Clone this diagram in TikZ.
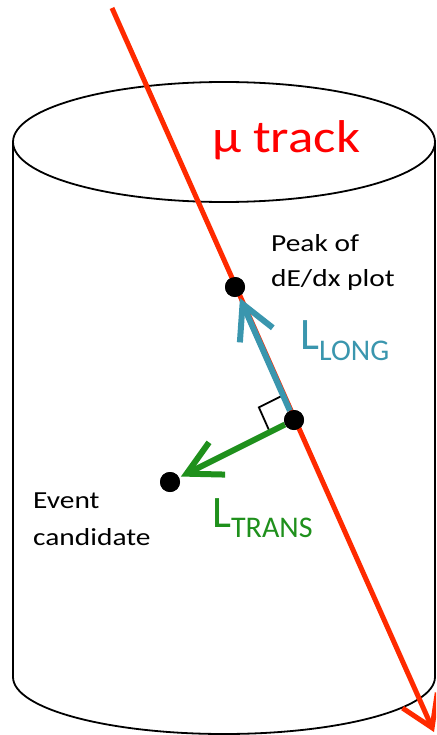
\documentclass[tikz,border=0pt]{standalone}
\usepackage{fontspec}
\setmainfont{Carlito}
\newfontfamily\mufont{Carlito}[FakeStretch=1.15]
\newfontfamily\widefont{Carlito}[FakeStretch=1.2]
\usetikzlibrary{arrows.meta,calc}
\definecolor{trackred}{HTML}{FF2A00}
\definecolor{longblue}{HTML}{3A96AE}
\definecolor{transgreen}{HTML}{1F901C}
\tikzset{
  cyl/.style={draw=black, line width=1.8pt},
  track/.style={draw=trackred, line width=5pt, -{Straight Barb[length=30pt,width=38pt,line width=5pt]}},
  longarrow/.style={draw=longblue, line width=6pt, -{Straight Barb[length=34pt,width=36pt,line width=6pt]}, shorten >=2pt},
  transarrow/.style={draw=transgreen, line width=6pt, -{Straight Barb[length=34pt,width=36pt,line width=6pt]}, shorten >=2pt},
  dot/.style={circle, fill=black, minimum size=20pt, inner sep=0pt},
  lbl/.style={anchor=base west, inner sep=0pt, font=\widefont\fontsize{24.5}{29}\selectfont},
  bigl/.style={anchor=base west, inner sep=0pt},
  rightangle/.style={draw=black, line width=1.8pt}
}
\begin{document}
\begin{tikzpicture}[x=1pt,y=-1pt]
\useasboundingbox (0,0) rectangle (436,735);
\clip (0,0) rectangle (436,735);
% cylinder
\draw[cyl] (224,142) ellipse [x radius=211, y radius=60];
\draw[cyl] (13,142) -- (13,677) arc[start angle=180, end angle=0, x radius=211, y radius=57] -- (435,142);
% points
\node[dot] (peak) at (235,287) {};
\node[dot] (ctr) at (294,420) {};
\node[dot] (cand) at (170,482) {};
% track
\coordinate (ttop) at (112,8);
\coordinate (tbot) at (434,732);
\draw[track] (ttop) -- (tbot);
% right angle
\coordinate (ra1) at ($(ctr)!27pt!(peak)$);
\coordinate (ra2) at ($(ctr)!27pt!(cand)$);
\draw[rightangle] (ra1) -- ($(ra1)+(ra2)-(ctr)$) -- (ra2);
% vectors
\draw[longarrow] (ctr) -- (peak);
\draw[transarrow] (ctr) -- (cand);
\node[dot] at (peak) {};
\node[dot] at (ctr) {};
\node[dot] at (cand) {};
% labels
\node[bigl, text=red, font=\mufont\fontsize{46}{50}\selectfont] (mu) at (212,153) {μ track};
\node[lbl] (peak1) at (271,251) {Peak of};
\node[lbl] (peak2) at (271,286) {dE/dx plot};
\node[lbl] (ev1) at (33,508) {Event};
\node[lbl] (ev2) at (33,545) {candidate};
\node[bigl, text=longblue] (llong) at (300,349) {\fontsize{45}{50}\selectfont L\fontsize{30}{34}\selectfont\raisebox{-11pt}{LONG}};
\node[bigl, text=transgreen] (ltrans) at (212,527) {\fontsize{45}{50}\selectfont L\fontsize{30}{34}\selectfont\raisebox{-10pt}{TRANS}};
\end{tikzpicture}
\end{document}
